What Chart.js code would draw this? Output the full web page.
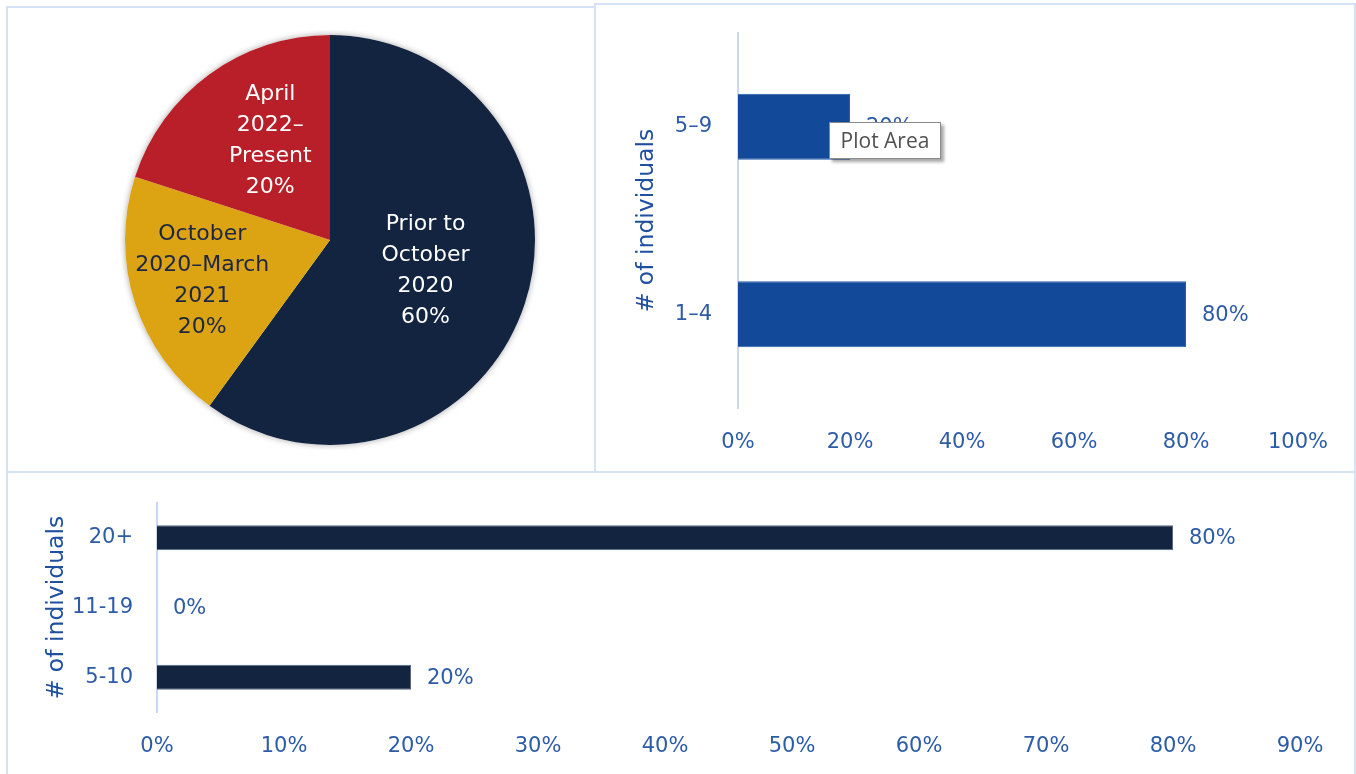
<!DOCTYPE html>
<html>
<head>
    <meta charset="utf-8">
    <title>Individuals charts</title>
    <script src="https://cdn.jsdelivr.net/npm/chart.js"></script>
    <style>
        * {
            font-family: 'DejaVu Sans', sans-serif;
        }
        body {
            margin: 0;
            width: 1356px;
            height: 774px;
            overflow: hidden;
            background-color: #ffffff;
            position: relative;
        }
        .panel {
            position: absolute;
            box-sizing: border-box;
            border: 2px solid #d5e2f5;
        }
        .holder {
            position: absolute;
        }
        #tip {
            position: absolute;
            left: 829px;
            top: 122px;
            width: 112px;
            height: 37px;
            box-sizing: border-box;
            background: #fff;
            border: 1px solid #8a8a8a;
            box-shadow: 3px 3px 3px rgba(0,0,0,0.35);
            color: #505050;
            font-family: 'Open Sans', sans-serif;
            font-size: 21px;
            line-height: 35px;
            text-align: center;
        }
    </style>
</head>
<body>
<div class="panel" style="left:6px;top:6px;width:590px;height:467px"></div>
<div class="panel" style="left:594px;top:3px;width:762px;height:470px"></div>
<div class="panel" style="left:6px;top:471px;width:1350px;height:320px"></div>

<div class="holder" style="left:120px;top:30px;width:420px;height:420px"><canvas id="pie_chart"></canvas></div>
<div class="holder" style="left:596px;top:5px;width:756px;height:464px"><canvas id="team_chart"></canvas></div>
<div class="holder" style="left:8px;top:473px;width:1346px;height:301px"><canvas id="group_chart"></canvas></div>

<div id="tip">Plot Area</div>

<script>
// pie: when people joined
const pieLabels = [['Prior to', 'October', '2020'], ['October', '2020–March', '2021'], ['April', '2022–', 'Present']];
const pieValues = [60, 20, 20];

// top right bars
const teamSizes = ['5–9', '1–4'];
const teamShares = [20, 80];
const teamTicks = [0, 20, 40, 60, 80, 100];

// bottom bars
const groupSizes = ['20+', '11-19', '5-10'];
const groupShares = [80, 0, 20];
const groupTicks = [0, 10, 20, 30, 40, 50, 60, 70, 80, 90];

const tickBlue = '#2c5ba7';
const titleBlue = '#1f4f9f';
const axisLine = '#c9d8ee';

Chart.defaults.font.family = '"DejaVu Sans", sans-serif';

// where each pie label sits: fraction of radius, plus a small nudge
const pieLabelDist = [0.49, 0.65, 0.57];
const pieLabelNudge = [[0, 0], [-1, 0], [9, -5]];
const pieTextColors = ['#ffffff', '#1c2744', '#ffffff'];

const pieLabelPlugin = {
    id: 'pieLabels',
    beforeDatasetsDraw(chart) {
        const arc = chart.getDatasetMeta(0).data[0];
        if (!arc) return;
        const ctx = chart.ctx;
        ctx.save();
        ctx.shadowColor = 'rgba(0,0,0,0.35)';
        ctx.shadowBlur = 6;
        ctx.fillStyle = '#ffffff';
        ctx.beginPath();
        ctx.arc(arc.x, arc.y, arc.outerRadius, 0, Math.PI * 2);
        ctx.fill();
        ctx.restore();
    },
    afterDatasetsDraw(chart) {
        const ctx = chart.ctx;
        const meta = chart.getDatasetMeta(0);
        ctx.save();
        ctx.font = '22px "DejaVu Sans"';
        ctx.textAlign = 'center';
        ctx.textBaseline = 'middle';
        meta.data.forEach((el, i) => {
            const mid = (el.startAngle + el.endAngle) / 2;
            const r = el.outerRadius * pieLabelDist[i];
            const cx = el.x + Math.cos(mid) * r + pieLabelNudge[i][0];
            const cy = el.y + Math.sin(mid) * r + pieLabelNudge[i][1];
            const lines = pieLabels[i].concat([pieValues[i] + '%']);
            const lh = 31;
            const y0 = cy - (lines.length - 1) * lh / 2;
            ctx.fillStyle = pieTextColors[i];
            lines.forEach((t, k) => ctx.fillText(t, cx, y0 + k * lh));
        });
        ctx.restore();
    }
};

const barLabelPlugin = {
    id: 'barLabels',
    afterDatasetsDraw(chart) {
        const ctx = chart.ctx;
        const meta = chart.getDatasetMeta(0);
        const vals = chart.data.datasets[0].data;
        ctx.save();
        ctx.font = '21px "DejaVu Sans"';
        ctx.fillStyle = tickBlue;
        ctx.textAlign = 'left';
        ctx.textBaseline = 'middle';
        meta.data.forEach((bar, i) => {
            ctx.fillText(vals[i] + '%', bar.x + 16, bar.y + 1);
        });
        ctx.restore();
    }
};

new Chart(document.getElementById('pie_chart'), {
    type: 'pie',
    data: {
        labels: pieLabels.map(l => l.join(' ')),
        datasets: [{
            data: pieValues,
            backgroundColor: ['#132441', '#dca313', '#b91f29'],
            borderWidth: 0
        }]
    },
    options: {
        responsive: true,
        maintainAspectRatio: false,
        animation: false,
        layout: { padding: 5 },
        plugins: {
            legend: { display: false },
            tooltip: { enabled: false }
        }
    },
    plugins: [pieLabelPlugin]
});

function barOptions(ticks, yWidth, xHeight, padTop, padRight, titlePad, labelPad) {
    return {
        indexAxis: 'y',
        responsive: true,
        maintainAspectRatio: false,
        animation: false,
        layout: { padding: { top: padTop, right: padRight, left: 0, bottom: 0 } },
        scales: {
            x: {
                min: ticks[0],
                max: ticks[ticks.length - 1],
                afterBuildTicks: scale => { scale.ticks = ticks.map(v => ({ value: v })); },
                afterFit: scale => { scale.height = xHeight; scale.paddingLeft = 0; scale.paddingRight = 0; },
                grid: { display: false },
                border: { display: false },
                ticks: {
                    padding: 14,
                    color: tickBlue,
                    font: { size: 21 },
                    callback: v => v + '%'
                }
            },
            y: {
                afterFit: scale => { scale.width = yWidth; scale.paddingTop = 0; scale.paddingBottom = 0; },
                grid: { display: false },
                border: { display: true, color: axisLine, width: 2 },
                ticks: {
                    padding: labelPad,
                    color: tickBlue,
                    font: { size: 21 }
                },
                title: {
                    display: true,
                    text: '# of individuals',
                    color: titleBlue,
                    font: { size: 23.5 },
                    padding: { top: titlePad, bottom: 0 }
                }
            }
        },
        plugins: {
            legend: { display: false },
            tooltip: { enabled: false }
        }
    };
}

new Chart(document.getElementById('team_chart'), {
    type: 'bar',
    data: {
        labels: teamSizes,
        datasets: [{
            data: teamShares,
            backgroundColor: '#124a99',
            borderColor: '#2a5fae',
            borderWidth: 1,
            categoryPercentage: 1,
            barPercentage: 0.352
        }]
    },
    options: barOptions(teamTicks, 142, 61, 28, 54, 37, 18),
    plugins: [barLabelPlugin]
});

new Chart(document.getElementById('group_chart'), {
    type: 'bar',
    data: {
        labels: groupSizes,
        datasets: [{
            data: groupShares,
            backgroundColor: '#132441',
            borderColor: '#5a6a85',
            borderWidth: 1,
            categoryPercentage: 1,
            barPercentage: 0.36
        }]
    },
    options: barOptions(groupTicks, 149, 62, 30, 54, 35, 16),
    plugins: [barLabelPlugin]
});
</script>
</body>
</html>
